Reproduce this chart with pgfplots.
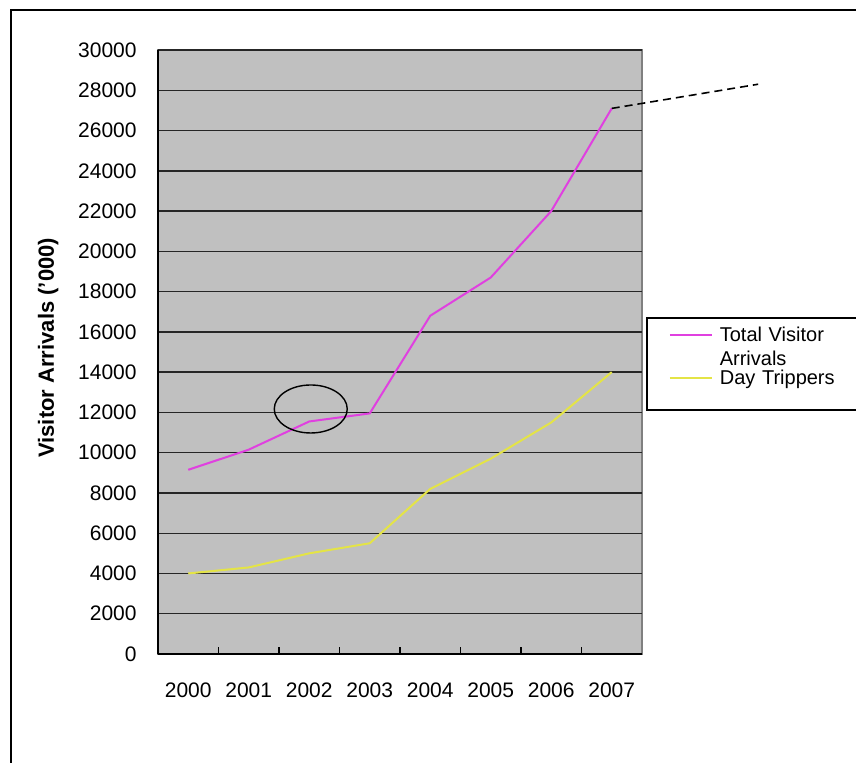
\documentclass[border=0pt]{standalone}
\usepackage{pgfplots}
\pgfplotsset{compat=1.18}
\usepackage{fontspec}
\setmainfont{Liberation Sans}
\definecolor{tvmag}{RGB}{224,64,224}
\definecolor{dtyel}{RGB}{228,228,70}
\definecolor{plotgray}{RGB}{192,192,192}
\begin{document}
\begin{tikzpicture}[x=1pt,y=1pt]
\useasboundingbox (0,0) rectangle (428,381);
\fill[white] (0,0) rectangle (428,381);
\draw[line width=0.9pt] (5.5,-2) -- (5.5,376) -- (432,376);
\begin{axis}[
  at={(79pt,54pt)}, anchor=south west,
  scale only axis, width=242pt, height=302pt,
  xmin=-0.5, xmax=7.5, ymin=0, ymax=30000,
  clip=false,
  axis lines*=left,
  axis line style={black, line width=0.8pt},
  axis background/.style={fill=plotgray, draw=gray, line width=0.8pt},
  xtick={0,...,7},
  xticklabels={2000,2001,2002,2003,2004,2005,2006,2007},
  minor xtick={0.5,1.5,...,6.5},
  ytick={0,2000,...,30000},
  scaled y ticks=false,
  /pgf/number format/assume math mode=true,
  /pgf/number format/1000 sep={},
  major tick length=0pt, minor tick length=3.5pt,
  tick align=inside,
  minor tick style={black, line width=0.7pt},
  ymajorgrids,
  major grid style={black!85, line width=0.7pt},
  ticklabel style={font=\fontsize{10.5}{12}\selectfont},
  xticklabel style={anchor=center, yshift=-18pt},
  yticklabel style={anchor=east, inner sep=0pt, xshift=-10.5pt},
  ylabel={Visitor Arrivals ('000)},
  ylabel style={at={(axis description cs:-0.227,0.507)}, anchor=center, font=\bfseries\fontsize{11}{13}\selectfont},
  legend image code/.code={\draw[#1] (0pt,3.5pt) -- (21pt,3.5pt);},
  legend style={at={(1.0083,0.558)}, anchor=north west, draw=black, line width=0.8pt, fill=white,
    font=\fontsize{10}{12}\selectfont, inner xsep=11pt, inner ysep=0pt, row sep=0pt, column sep=1.5pt,
    cells={anchor=base west, inner sep=0pt, text width=78pt}},
]
\addplot[tvmag, line width=1pt] coordinates {(0,9150) (1,10150) (2,11550) (3,11950) (4,16800) (5,18700) (6,22000) (7,27100)};
\addlegendentry[text height=10pt, text depth=2pt]{Total Visitor}
\addlegendimage{empty legend}
\addlegendentry[text height=6pt, text depth=0pt]{Arrivals}
\addplot[dtyel, line width=1pt] coordinates {(0,4000) (1,4300) (2,5000) (3,5500) (4,8200) (5,9700) (6,11500) (7,14000)};
\addlegendentry[text height=5.5pt, text depth=10.5pt]{Day Trippers}
\draw[line width=0.7pt] (axis cs:2.025,12170) ellipse [x radius=18.25pt, y radius=12pt];
\draw[dash pattern=on 4pt off 2.5pt, line width=0.8pt] (axis cs:7,27100) -- (axis cs:9.42,28300);
\end{axis}
\end{tikzpicture}
\end{document}
